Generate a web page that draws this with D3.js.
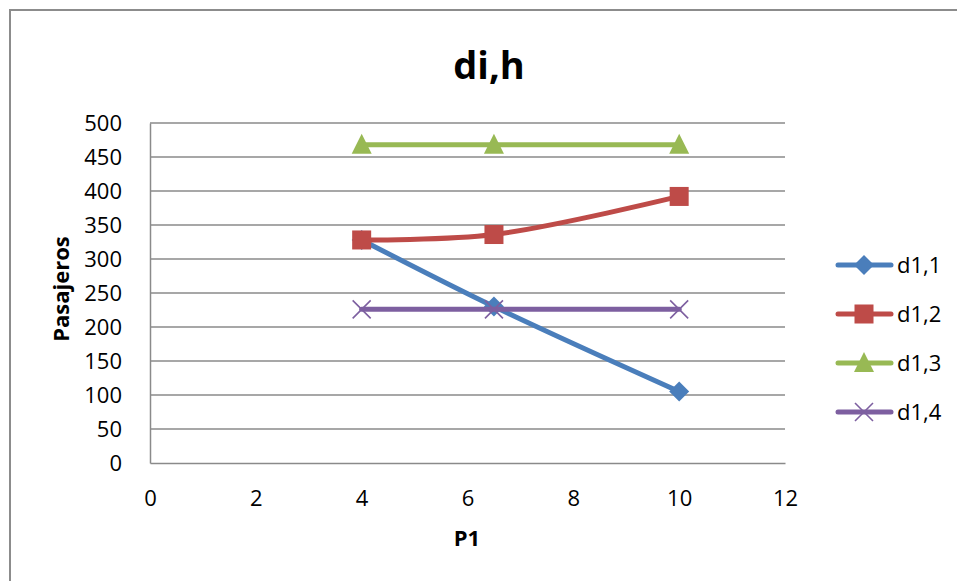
<!DOCTYPE html>
<html><head><meta charset="utf-8">
<script src="https://cdn.jsdelivr.net/npm/d3@7"></script>
<style>body{margin:0;background:#fff}svg{display:block}text{font-family:"Open Sans",Lato,sans-serif}</style>
</head><body><svg id="c" width="957" height="581"></svg>
<script>
const xValues = [4, 6.5, 10];
const seriesNames = ["d1,1", "d1,2", "d1,3", "d1,4"];
const d11 = [328, 230, 105];
const d12 = [328, 336, 392];
const d13 = [468, 468, 468];
const d14 = [226, 226, 226];
const xTicks = [0, 2, 4, 6, 8, 10, 12];
const yTicks = [0, 50, 100, 150, 200, 250, 300, 350, 400, 450, 500];
const colors = ["#4A7EBB", "#BE4B48", "#98B954", "#7D5FA0"];
const symbols = ["diamond", "square", "triangle", "x"];
const seriesValues = [d11, d12, d13, d14];

const svg = d3.select("#c");
svg.append("rect").attr("x",10).attr("y",10).attr("width",1000).attr("height",1000)
  .attr("fill","none").attr("stroke","#8c8c8c").attr("stroke-width",2);

const x = d3.scaleLinear().domain([0,12]).range([150,785]);
const y = d3.scaleLinear().domain([0,500]).range([463,123]);

// gridlines
svg.append("g").selectAll("line").data(yTicks.filter(d=>d>0)).join("line")
  .attr("x1",x(0)).attr("x2",x(12)).attr("y1",d=>y(d)).attr("y2",d=>y(d))
  .attr("stroke","#8a8a8a").attr("stroke-width",1.5);

// axes
const yAxis = svg.append("g").attr("transform",`translate(${x(0)},0)`)
  .call(d3.axisLeft(y).tickValues(yTicks).tickSize(0).tickPadding(28));
const xAxis = svg.append("g").attr("transform",`translate(0,${y(0)})`)
  .call(d3.axisBottom(x).tickValues(xTicks).tickSize(0).tickPadding(27));
[yAxis,xAxis].forEach(a=>{
  a.select(".domain").attr("stroke","#8a8a8a").attr("stroke-width",1.5);
  a.selectAll("text").attr("font-size",22).attr("fill","#000").attr("font-family","'Open Sans',sans-serif");
});

// title & axis titles
svg.append("text").attr("x",489).attr("y",79).attr("text-anchor","middle")
  .attr("font-size",38).attr("font-weight","bold").text("di,h");
svg.append("text").attr("transform","translate(69,289) rotate(-90)").attr("text-anchor","middle")
  .attr("font-size",22).attr("font-weight","bold").text("Pasajeros");
svg.append("text").attr("x",467).attr("y",546).attr("text-anchor","middle")
  .attr("font-size",22).attr("font-weight","bold").text("P1");

function marker(g, type, cx, cy, color){
  const s = 10;
  if(type==="diamond") g.append("path").attr("d",`M${cx},${cy-s}L${cx+s},${cy}L${cx},${cy+s}L${cx-s},${cy}Z`).attr("fill",color);
  else if(type==="square") g.append("rect").attr("x",cx-9.5).attr("y",cy-9.5).attr("width",19).attr("height",19).attr("fill",color);
  else if(type==="triangle") g.append("path").attr("d",`M${cx},${cy-11}L${cx+10},${cy+9}L${cx-10},${cy+9}Z`).attr("fill",color);
  else if(type==="x") g.append("path").attr("d",`M${cx-9},${cy-9}L${cx+9},${cy+9}M${cx+9},${cy-9}L${cx-9},${cy+9}`).attr("stroke",color).attr("stroke-width",1.6).attr("fill","none");
}

const line = d3.line().x(d=>x(d[0])).y(d=>y(d[1])).curve(d3.curveCatmullRom.alpha(0.5));
seriesValues.forEach((vals,i)=>{
  const g = svg.append("g");
  const pts = xValues.map((xv,j)=>[xv, vals[j]]);
  g.append("path").attr("d",line(pts)).attr("fill","none").attr("stroke",colors[i])
    .attr("stroke-width",5).attr("stroke-linecap","round");
  pts.forEach(p=>marker(g, symbols[i], x(p[0]), y(p[1]), colors[i]));
});

// legend
const legY = [265, 314, 363, 412];
seriesNames.forEach((n,i)=>{
  const g = svg.append("g");
  g.append("line").attr("x1",838).attr("x2",891).attr("y1",legY[i]).attr("y2",legY[i])
    .attr("stroke",colors[i]).attr("stroke-width",5).attr("stroke-linecap","round");
  marker(g, symbols[i], 864, legY[i], colors[i]);
  g.append("text").attr("x",897).attr("y",legY[i]+8).attr("font-size",22).text(n);
});
</script></body></html>
